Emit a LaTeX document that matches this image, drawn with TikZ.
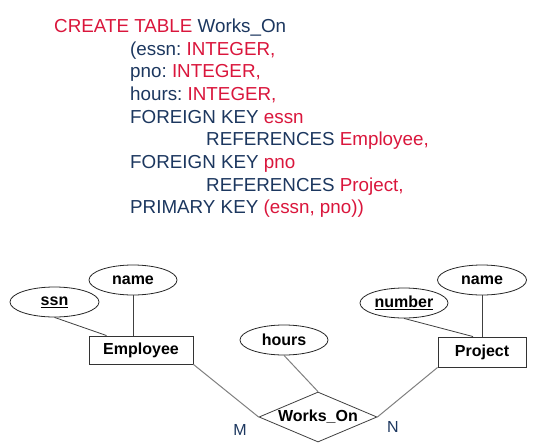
\documentclass[tikz,border=0pt]{standalone}
\usepackage{fontspec}
\setmainfont{Liberation Sans}
\usetikzlibrary{shapes.geometric,calc}
\definecolor{sqlred}{RGB}{218,22,60}
\definecolor{sqlblue}{RGB}{28,55,95}
\newcommand{\sqlr}[1]{\textcolor{sqlred}{#1}}
\newcommand{\sqlb}[1]{\textcolor{sqlblue}{#1}}
\frenchspacing
\begin{document}
\begin{tikzpicture}[x=1pt,y=-1pt,
  codeline/.style={anchor=base west,inner sep=0,font=\fontsize{18.8}{22.7}\selectfont},
  attr/.style={ellipse,draw=black!85,line width=0.8pt,minimum width=88,minimum height=30,inner sep=0,font=\fontsize{16}{18}\selectfont\bfseries},
  entity/.style={rectangle,draw=black!80,line width=0.9pt,minimum height=29,inner sep=0,font=\fontsize{16}{18}\selectfont\bfseries},
  rel/.style={diamond,draw=black!75,line width=0.8pt,aspect=2.36,minimum width=118,minimum height=50,inner sep=0,font=\fontsize{16}{18}\selectfont\bfseries},
  attrline/.style={draw=black!75,line width=0.8pt},
  relline/.style={draw=black!50,line width=1pt},
  card/.style={inner sep=0,text=sqlblue,font=\fontsize{16}{18}\selectfont}]
\useasboundingbox (0,0) rectangle (548,447);
\fill[white] (0,0) rectangle (548,447);
% SQL code
\node[codeline] (l1) at (54,32.3) {\sqlr{CREATE TABLE} \sqlb{Works\_On}};
\node[codeline] (l2) at (130,55) {\sqlb{(essn:} \sqlr{INTEGER,}};
\node[codeline] (l3) at (130,77.7) {\sqlb{pno:} \sqlr{INTEGER,}};
\node[codeline] (l4) at (130,100.4) {\sqlb{hours:} \sqlr{INTEGER,}};
\node[codeline] (l5) at (130,123.1) {\sqlb{FOREIGN KEY} \sqlr{essn}};
\node[codeline] (l6) at (206,145.8) {\sqlb{REFERENCES} \sqlr{Employee,}};
\node[codeline] (l7) at (130,168.5) {\sqlb{FOREIGN KEY} \sqlr{pno}};
\node[codeline] (l8) at (206,191.2) {\sqlb{REFERENCES} \sqlr{Project,}};
\node[codeline] (l9) at (130,213.9) {\sqlb{PRIMARY KEY} \sqlr{(essn, pno))}};
% ER diagram
\node[attr,minimum width=89] (ssn) at (54.5,302) {\underline{ssn}};
\node[attr] (ename) at (133,280) {name};
\node[entity,minimum width=104,minimum height=28] (emp) at (141,350) {Employee};
\node[attr] (hours) at (284,340) {hours};
\node[rel] (wo) at (318,417) {Works\_On};
\node[entity,minimum width=88,minimum height=30] (proj) at (482,352) {Project};
\node[attr] (num) at (404,303) {\underline{number}};
\node[attr,minimum width=89] (pname) at (482,280) {name};
\path[attrline] (ssn.south) -- ([xshift=18pt]emp.north west);
\path[attrline] (ename.south) -- (ename.south |- emp.north);
\path[attrline] (num.south) -- ([xshift=-9pt]proj.north);
\path[attrline] (pname.south) -- (pname.south |- proj.north);
\path[relline] (emp.south east) -- (wo.west);
\path[relline] (hours.south) -- (wo.north);
\path[relline] (proj.south west) -- (wo.east);
\node[card] (m) at (240,430) {M};
\node[card] (n) at (393,427) {N};
\end{tikzpicture}
\end{document}
